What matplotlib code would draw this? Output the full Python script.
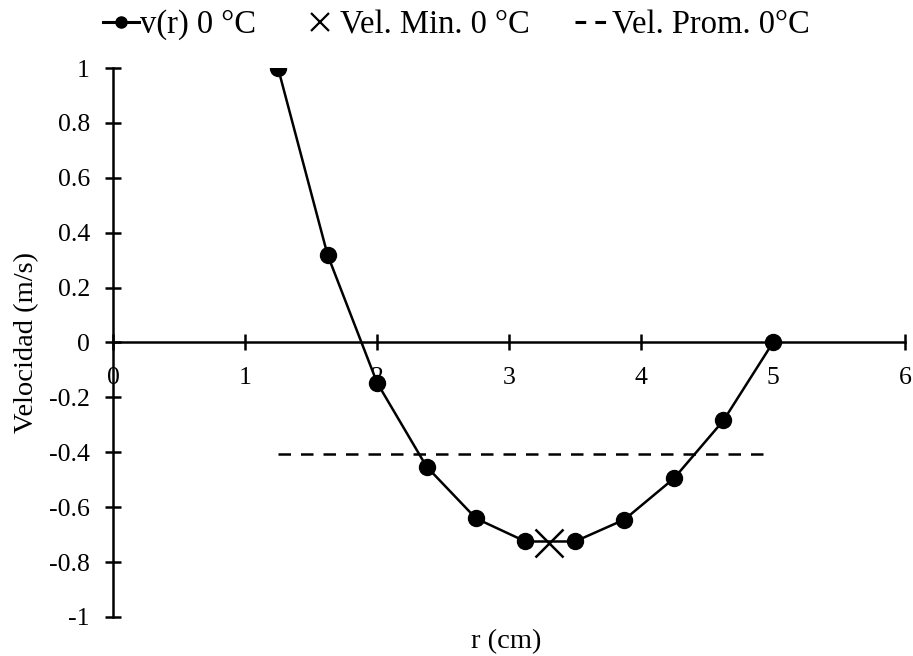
import matplotlib
matplotlib.use("Agg")
import matplotlib.pyplot as plt

plt.rcParams['font.family'] = ['Liberation Serif', 'DejaVu Serif']
plt.rcParams['axes.unicode_minus'] = False

# data
r = [1.25, 1.625, 2.0, 2.375, 2.75, 3.125, 3.5, 3.875, 4.25, 4.625, 5.0]
v = [1.0, 0.32, -0.146, -0.452, -0.641, -0.725, -0.725, -0.645, -0.495, -0.284, 0.0]
r_min = [3.30]
v_min = [-0.73]
r_prom = [1.25, 5.0]
v_prom = [-0.408, -0.408]
xticks = [0, 1, 2, 3, 4, 5, 6]
yticks = [-1, -0.8, -0.6, -0.4, -0.2, 0, 0.2, 0.4, 0.6, 0.8, 1]

fig = plt.figure(figsize=(9.13, 6.56), dpi=100)
ax = fig.add_axes([0.1238, 0.0595, 0.8674, 0.8368])

l1, = ax.plot(r, v, color='black', lw=1.8, marker='o', ms=11.5, label='v(r) 0 °C')
l2, = ax.plot(r_min, v_min, ls='none', marker='x', ms=20, mew=1.8, color='black',
              label='Vel. Min. 0 °C')
l3, = ax.plot(r_prom, v_prom, color='black', lw=1.8, ls=(0, (5, 4)),
              label='Vel. Prom. 0°C')

ax.set_xlim(0, 6)
ax.set_ylim(-1, 1)
ax.set_xticks(xticks)
ax.set_yticks(yticks)
ax.set_xticklabels([str(t) for t in xticks])
ax.set_yticklabels([('%g' % t) for t in yticks])

ax.spines['top'].set_visible(False)
ax.spines['right'].set_visible(False)
ax.spines['bottom'].set_position(('data', 0))
ax.spines['left'].set_linewidth(1.8)
ax.spines['bottom'].set_linewidth(1.8)
ax.tick_params(direction='inout', length=11.5, width=1.8, labelsize=18.5, pad=11)
ax.tick_params(axis='x', pad=12)

ax.set_xlabel('r (cm)', fontsize=20.5, labelpad=0)
ax.xaxis.set_label_coords(0.497, -0.022)
ax.set_ylabel('Velocidad (m/s)', fontsize=20.5, labelpad=0)
ax.yaxis.set_label_coords(-0.093, 0.5)

leg = fig.legend(handles=[l1, l2, l3], loc='upper center', bbox_to_anchor=(0.5, 1.03),
                 ncol=3, frameon=False, fontsize=23.5, handlelength=1.1,
                 handletextpad=0.05, columnspacing=1.4)
leg.legend_handles[0].set_markersize(8)
leg.legend_handles[0].set_linewidth(2.2)
leg.legend_handles[1].set_markersize(13)
leg.legend_handles[1].set_markeredgewidth(1.6)
leg.legend_handles[2].set_linewidth(2.2)
leg.legend_handles[2].set_linestyle((0, (3.5, 3)))

fig.savefig('out.png', dpi=100)
